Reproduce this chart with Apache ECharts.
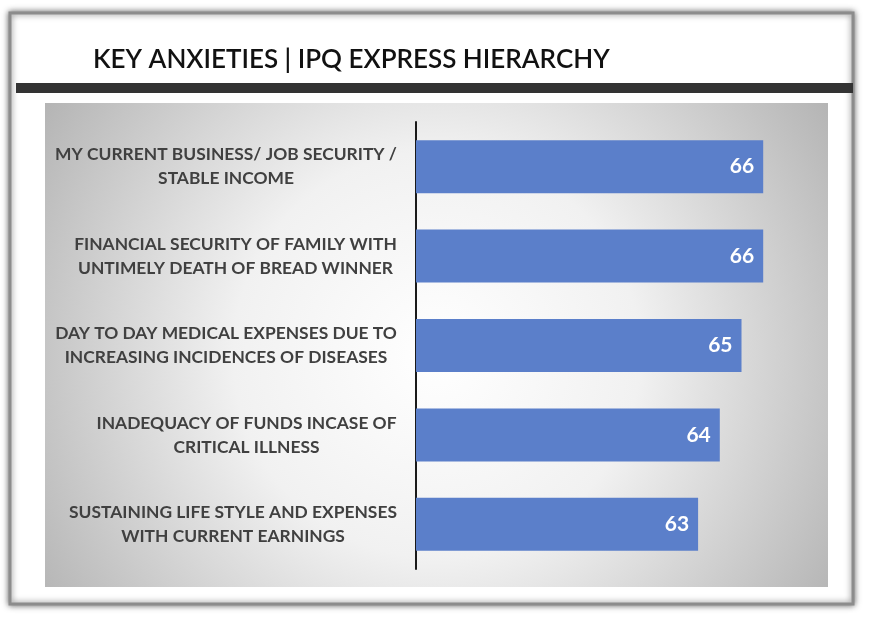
<!DOCTYPE html>
<html><head><meta charset="utf-8">
<script src="https://cdn.jsdelivr.net/npm/echarts@6/dist/echarts.min.js"></script>
<style>html,body{margin:0;padding:0;background:#fff}#c{width:869px;height:620px}</style>
</head><body><div id="c"></div>
<script>
const chartTitle = 'KEY ANXIETIES | IPQ EXPRESS HIERARCHY';
const categories = [
  'MY CURRENT BUSINESS/ JOB SECURITY /\nSTABLE INCOME',
  'FINANCIAL SECURITY OF FAMILY WITH\nUNTIMELY DEATH OF BREAD WINNER',
  'DAY TO DAY MEDICAL EXPENSES DUE TO\nINCREASING INCIDENCES OF DISEASES',
  'INADEQUACY OF FUNDS INCASE OF\nCRITICAL ILLNESS',
  'SUSTAINING LIFE STYLE AND EXPENSES\nWITH CURRENT EARNINGS'
];
const scores = [66, 66, 65, 64, 63];

const ctx = document.createElement('canvas').getContext('2d');
ctx.font = 'bold 17.4px Lato';
function widest(s) { return Math.ceil(Math.max.apply(null, s.split('\n').map(l => ctx.measureText(l).width))); }
const rich = {};
categories.forEach((c, i) => {
  rich['r' + i] = { width: widest(c), align: 'center', fontFamily: 'Lato', fontSize: 17.4,
    fontWeight: 'bold', color: '#404040', lineHeight: 24 };
});

const chart = echarts.init(document.getElementById('c'), null, { renderer: 'canvas' });
chart.setOption({
  animation: false,
  backgroundColor: '#ffffff',
  title: {
    text: chartTitle, left: 88, top: 42,
    textStyle: { fontFamily: 'Lato', fontSize: 26, fontWeight: 600, color: '#111111' }
  },
  graphic: [
    { type: 'rect', z: -10, shape: { x: 10, y: 13, width: 843, height: 591 },
      style: { fill: '#ffffff', stroke: '#8c8c8c', lineWidth: 3, shadowBlur: 6, shadowColor: 'rgba(0,0,0,0.55)' } },
    { type: 'rect', z: -9, shape: { x: 16, y: 83, width: 837, height: 10 }, style: { fill: '#333333' } },
    { type: 'rect', z: -9, shape: { x: 45, y: 103, width: 783, height: 484 },
      style: { fill: { type: 'radial', x: 0.5, y: 0.52, r: 1.0,
        colorStops: [{ offset: 0, color: '#ffffff' }, { offset: 0.42, color: '#f1f1f1' }, { offset: 1, color: '#b0b0b0' }] } } }
  ],
  grid: { left: 416, right: 19, top: 122, bottom: 51, outerBoundsMode: 'none' },
  xAxis: { type: 'value', min: 50, max: 70, show: false },
  yAxis: {
    type: 'category', inverse: true, data: categories,
    axisLine: { show: true, lineStyle: { color: '#1a1a1a', width: 2 } },
    axisTick: { show: false },
    splitLine: { show: false },
    axisLabel: {
      interval: 0, hideOverlap: false, align: 'right', margin: 19,
      fontFamily: 'Lato', fontSize: 17.4, fontWeight: 'bold', color: '#404040', lineHeight: 24,
      formatter: (v, i) => v.split('\n').map(l => '{r' + i + '|' + l + '}').join('\n'),
      rich: rich
    }
  },
  series: [{
    type: 'bar', data: scores, barWidth: 53,
    itemStyle: { color: '#5b7fca' },
    label: { show: true, position: 'insideRight', distance: 9, color: '#ffffff',
      fontFamily: 'Lato', fontSize: 21, fontWeight: 'bold' }
  }]
});
</script></body></html>
